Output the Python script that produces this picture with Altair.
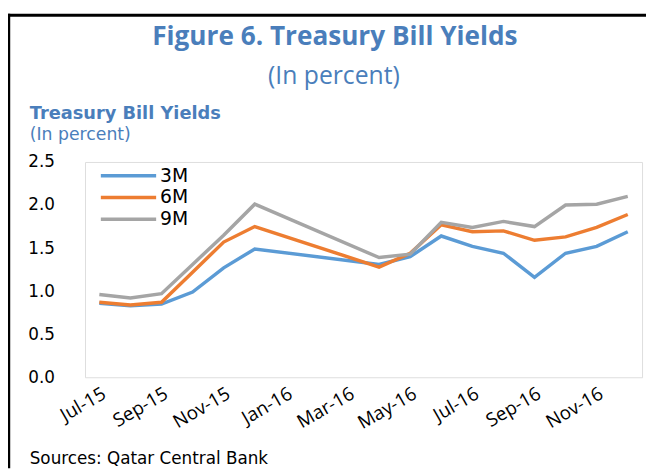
import altair as alt
import pandas as pd

months = ["Jul-15", "Aug-15", "Sep-15", "Oct-15", "Nov-15", "Dec-15",
          "Jan-16", "Feb-16", "Mar-16", "Apr-16", "May-16", "Jun-16",
          "Jul-16", "Aug-16", "Sep-16", "Oct-16", "Nov-16", "Dec-16"]
tick_labels = ["Jul-15", "Sep-15", "Nov-15", "Jan-16", "Mar-16",
               "May-16", "Jul-16", "Sep-16", "Nov-16"]
series = ["3M", "6M", "9M"]
colors = ["#5B9BD5", "#ED7D31", "#A5A5A5"]

y3m = [0.86, 0.83, 0.85, 0.99, 1.27, 1.49, None, None, None,
       1.31, 1.40, 1.64, 1.52, 1.44, 1.16, 1.44, 1.52, 1.69]
y6m = [0.87, 0.84, 0.87, 1.22, 1.57, 1.75, None, None, None,
       1.28, 1.44, 1.77, 1.69, 1.70, 1.59, 1.63, 1.74, 1.89]
y9m = [0.96, 0.92, 0.97, 1.31, 1.65, 2.01, None, None, None,
       1.39, 1.43, 1.80, 1.74, 1.81, 1.75, 2.00, 2.01, 2.10]

rows = []
for name, vals in zip(series, [y3m, y6m, y9m]):
    for m, v in zip(months, vals):
        if v is not None:
            rows.append({"month": m, "series": name, "value": v})
df = pd.DataFrame(rows)

W, H = 564, 218
BLUE = "#4A7EBB"

color_scale = alt.Scale(domain=series, range=colors)

lines = alt.Chart(df).mark_line(strokeWidth=3.5).encode(
    x=alt.X("month:O",
            scale=alt.Scale(type="point", domain=months, padding=0.46),
            axis=alt.Axis(values=tick_labels, labelAngle=-30, title=None,
                          labelFont="Open Sans", labelFontSize=19,
                          labelColor="black", labelPadding=7,
                          domain=False, ticks=False, grid=False)),
    y=alt.Y("value:Q",
            scale=alt.Scale(domain=[0, 2.5], nice=False, zero=True),
            axis=alt.Axis(values=[0, 0.5, 1.0, 1.5, 2.0, 2.5], format=".1f",
                          title=None, labelFont="DejaVu Sans",
                          labelFontSize=17, labelColor="black",
                          labelPadding=31, domain=False, ticks=False,
                          grid=False)),
    color=alt.Color("series:N", scale=color_scale, legend=None),
)

leg = pd.DataFrame({"series": series})
leg_y = alt.Y("series:N",
              scale=alt.Scale(type="point", domain=series, range=[14, 58],
                              padding=0),
              axis=None)
leg_rules = alt.Chart(leg).mark_rule(strokeWidth=3.5).encode(
    x=alt.value(16), x2=alt.value(72), y=leg_y,
    color=alt.Color("series:N", scale=color_scale, legend=None),
)
leg_text = alt.Chart(leg).mark_text(
    align="left", baseline="middle", font="DejaVu Sans", fontSize=19,
    color="black").encode(x=alt.value(76), y=leg_y, text="series:N")


def label(txt, x, y, **kw):
    return alt.Chart(pd.DataFrame({"t": [txt]})).mark_text(**kw).encode(
        text="t:N", x=alt.value(x), y=alt.value(y))


title = label("Figure 6. Treasury Bill Yields", 253, -118, align="center",
              baseline="alphabetic", font="Open Sans", fontWeight="bold",
              fontSize=26.5, color=BLUE)
subtitle = label("(In percent)", 252, -79, align="center",
                 baseline="alphabetic", font="Open Sans", fontSize=25,
                 color=BLUE)
inner_title = label("Treasury Bill Yields", -56, -43, align="left",
                    baseline="alphabetic", font="DejaVu Sans",
                    fontWeight="bold", fontSize=18, color=BLUE)
inner_sub = label("(In percent)", -56, -22, align="left",
                  baseline="alphabetic", font="DejaVu Sans", fontSize=17.5,
                  color=BLUE)
source = label("Sources: Qatar Central Bank", -56, 306, align="left",
               baseline="alphabetic", font="DejaVu Sans", fontSize=17,
               color="black")

frame_df = pd.DataFrame({"a": [0]})
top_border = alt.Chart(frame_df).mark_rule(color="black", strokeWidth=3).encode(
    x=alt.value(-78), x2=alt.value(568), y=alt.value(-148.5))
left_border = alt.Chart(frame_df).mark_rule(color="black", strokeWidth=2.5).encode(
    x=alt.value(-77), y=alt.value(-150), y2=alt.value(310))

chart = alt.layer(
    lines, leg_rules, leg_text, title, subtitle, inner_title, inner_sub,
    source, top_border, left_border
).resolve_scale(
    y="independent"
).properties(
    width=W, height=H,
    autosize=alt.AutoSizeParams(type="none"),
    padding={"left": 78, "top": 153, "right": 4, "bottom": 91},
).configure_view(
    stroke="#D9D9D9", strokeWidth=2
).configure(background="white")

chart.save("out.html", embed_options={"renderer": "svg", "actions": False})
